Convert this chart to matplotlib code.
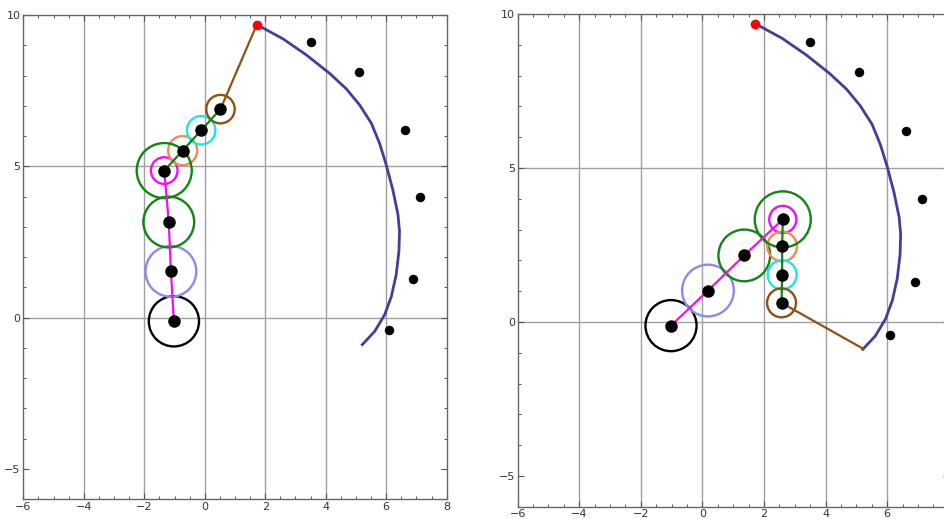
import matplotlib
matplotlib.use("Agg")
import matplotlib.pyplot as plt
from matplotlib.patches import Circle
from matplotlib.ticker import MultipleLocator

# target points (same in both panels)
pts_x = [3.50, 5.10, 6.61, 7.12, 6.90, 6.10]
pts_y = [9.10, 8.11, 6.21, 3.99, 1.29, -0.42]

# start point of the trace
start_x, start_y = 1.72, 9.68

# traced curve
trace_x = [1.71, 2.59, 3.36, 4.13, 4.68, 5.12, 5.51, 5.78, 6.00, 6.22, 6.39,
           6.44, 6.42, 6.33, 6.17, 5.95, 5.62, 5.21]
trace_y = [9.69, 9.21, 8.68, 8.07, 7.56, 7.03, 6.42, 5.76, 5.05, 4.22, 3.40,
           2.85, 2.19, 1.42, 0.70, 0.10, -0.45, -0.89]

# epicycle chain, left panel
left_x = [-1.02, -1.12, -1.19, -1.34, -0.73, -0.12, 0.52]
left_y = [-0.12, 1.53, 3.16, 4.86, 5.52, 6.19, 6.89]
left_tip = (1.72, 9.68)

# epicycle chain, right panel
right_x = [-1.02, 0.18, 1.36, 2.61, 2.59, 2.59, 2.57]
right_y = [-0.12, 1.02, 2.16, 3.33, 2.45, 1.53, 0.62]
right_tip = (5.22, -0.87)

# circle around each chain node
radii = [0.83, 0.84, 0.84, 0.44, 0.48, 0.47, 0.47]
ring_colors = ["black", "#8a8aee", "#128512", "#ee11ee", "#ef8a55", "#22e2e2", "#8c5216"]
# extra big ring on node 3
big_ring_node = 3
big_ring_r = 0.91

# tick labels
xticks = [-6, -4, -2, 0, 2, 4, 6, 8]
yticks = [-5, 0, 5, 10]

magenta = "#ee11ee"
green = "#128512"
brown = "#8c5216"
trace_color = "#40409a"

fig = plt.figure(figsize=(9.45, 5.19), dpi=100)

ax1 = fig.add_axes([23.3 / 945, (519 - 499.3) / 519, 423.4 / 945, 484.3 / 519])
ax2 = fig.add_axes([517.7 / 945, (519 - 506.7) / 519, 431.0 / 945, 492.7 / 519])


def lab(v):
    return str(v).replace("-", "\u2212")


def draw_panel(ax, cx, cy, tip, xlabels):
    ax.set_xlim(-6, 8)
    ax.set_ylim(-6, 10)

    # grid lines
    for gx in [-4, -2, 0, 2, 4, 6]:
        ax.axvline(gx, color="#a0a0a0", lw=1.0, zorder=0)
    for gy in [0, 5]:
        ax.axhline(gy, color="#a0a0a0", lw=1.0, zorder=0)

    # rings
    for i in range(len(cx)):
        ax.add_patch(Circle((cx[i], cy[i]), radii[i], fill=False,
                            ec=ring_colors[i], lw=1.7, zorder=2))
    ax.add_patch(Circle((cx[big_ring_node], cy[big_ring_node]), big_ring_r,
                        fill=False, ec=green, lw=1.7, zorder=2))

    # trace and target points
    ax.plot(trace_x, trace_y, color=trace_color, lw=2.0, zorder=3,
            solid_joinstyle="round")
    ax.plot(pts_x, pts_y, "o", color="black", ms=5.8, zorder=4)

    # arms
    ax.plot(cx[:4], cy[:4], color=magenta, lw=1.6, zorder=3)
    ax.plot(cx[3:], cy[3:], color=green, lw=1.6, zorder=3)
    ax.plot([cx[-1], tip[0]], [cy[-1], tip[1]], color=brown, lw=1.6, zorder=3)

    # nodes
    ax.plot(cx, cy, "o", color="black", ms=8, zorder=5)
    ax.plot([start_x], [start_y], "o", color="red", ms=6, zorder=6)

    # frame and ticks
    ax.set_xticks(xticks)
    ax.set_xticklabels(xlabels)
    ax.set_yticks(yticks)
    ax.set_yticklabels([lab(v) for v in yticks])
    ax.xaxis.set_minor_locator(MultipleLocator(0.5))
    ax.yaxis.set_minor_locator(MultipleLocator(1))
    ax.tick_params(which="both", direction="in", top=True, right=True,
                   color="#555555", labelsize=8, labelcolor="#333333", pad=2)
    ax.tick_params(which="major", length=4, width=0.8)
    ax.tick_params(which="minor", length=2.5, width=0.7)
    for s in ax.spines.values():
        s.set_color("#666666")
        s.set_linewidth(1.0)


draw_panel(ax1, left_x, left_y, left_tip, [lab(v) for v in xticks])
# right panel runs off the figure edge, so its last label is not shown
draw_panel(ax2, right_x, right_y, right_tip, [lab(v) for v in xticks[:-1]] + [""])

fig.savefig("out.png", dpi=100)
